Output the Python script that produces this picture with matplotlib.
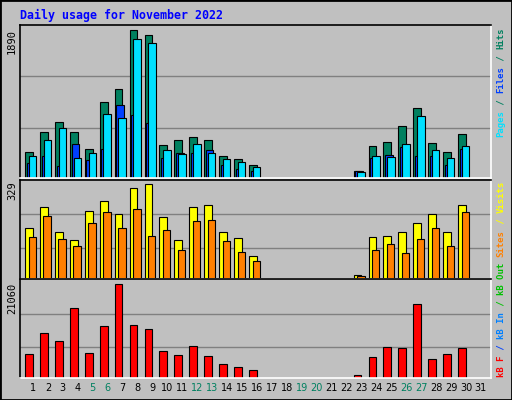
import matplotlib.pyplot as plt
import numpy as np

# ---- data ----
days = list(range(1, 32))
active = [1, 2, 3, 4, 5, 6, 7, 8, 9, 10, 11, 12, 13, 14, 15, 16, 23, 24, 25, 26, 27, 28, 29, 30]
hits = [330, 587, 716, 587, 369, 973, 1140, 1890, 1822, 420, 484, 523, 484, 279, 240, 163,
        86, 407, 459, 664, 896, 446, 330, 561]
files = [279, 484, 639, 253, 317, 819, 767, 1770, 1719, 356, 304, 433, 317, 240, 201, 137,
         73, 279, 266, 433, 793, 356, 253, 407]
pages = [189, 279, 150, 433, 227, 369, 934, 806, 703, 253, 317, 317, 356, 163, 111, 86,
         86, 253, 291, 394, 279, 279, 163, 369]
visits = [179, 251, 165, 137, 236, 272, 226, 318, 329, 215, 137, 251, 258, 165, 144, 80,
          15, 147, 151, 165, 194, 226, 165, 258]
sites = [147, 219, 140, 115, 194, 233, 179, 244, 151, 172, 101, 201, 204, 133, 94, 62,
         12, 101, 122, 90, 140, 176, 115, 233]
kbytes = [5380, 9990, 8380, 15760, 5610, 11610, 21060, 11840, 10920, 6070, 5150, 7230, 4920,
          3080, 2380, 1690, 770, 4690, 7000, 6770, 16690, 4230, 5380, 6770]
weekends = [5, 6, 12, 13, 19, 20, 26, 27]

W, H = 512, 400
BG = '#C0C0C0'
fig = plt.figure(figsize=(W / 100, H / 100), dpi=100, facecolor=BG)

# outer frame
fig.patches.append(plt.Rectangle((0, 0), 1, 1, transform=fig.transFigure, fill=False,
                                 edgecolor='black', linewidth=2))


def make_axes(y0, y1):
    ax = fig.add_axes([20 / W, 1 - y1 / H, (491 - 20) / W, (y1 - y0) / H])
    ax.set_facecolor(BG)
    ax.set_xlim(0.13, 31.67)
    ax.set_xticks([])
    ax.set_yticks([])
    for s in ['top', 'left']:
        ax.spines[s].set_color('black')
    for s in ['bottom', 'right']:
        ax.spines[s].set_color('white')
    for s in ax.spines.values():
        s.set_linewidth(1.2)
    return ax


def grid(ax, top, fracs):
    ax.set_ylim(0, top)
    for f in fracs:
        ax.axhline(top * f, color='#808080', linewidth=1, zorder=0)


x = np.array(active)
kw = dict(edgecolor='black', linewidth=0.8, align='edge', zorder=2)

# top panel: hits / files / pages
ax1 = make_axes(25, 178)
grid(ax1, max(hits) * 455 / 441, [0.33, 0.665])
ax1.bar(x - 0.53, hits, 0.52, color='#00805F', **kw)
ax1.bar(x - 0.42, pages, 0.5, color='#0040FF', **kw)
ax1.bar(x - 0.28, files, 0.5, color='#00E0FF', **kw)
fig.text(12 / W, 1 - 29 / H, str(max(hits)), rotation=90, ha='center', va='top',
         family='DejaVu Sans Mono', fontsize=7.5)

# middle panel: visits / sites
ax2 = make_axes(180, 279)
grid(ax2, max(visits) * 290 / 277, [0.31, 0.655])
ax2.bar(x - 0.53, visits, 0.52, color='#FFFF00', **kw)
ax2.bar(x - 0.3, sites, 0.5, color='#FF8000', **kw)
fig.text(12 / W, 1 - 181 / H, str(max(visits)), rotation=90, ha='center', va='top',
         family='DejaVu Sans Mono', fontsize=7.5)

# bottom panel: kB
ax3 = make_axes(279, 378)
grid(ax3, max(kbytes) * 289 / 274, [0.31, 0.647])
ax3.bar(x - 0.53, kbytes, 0.52, color='#FF0000', **kw)
fig.text(12 / W, 1 - 283 / H, str(max(kbytes)), rotation=90, ha='center', va='top',
         family='DejaVu Sans Mono', fontsize=7.5)

# day labels
for d in days:
    px = 33 + (d - 1) * 14.93
    fig.text(px / W, 1 - 388 / H, str(d), ha='center', va='center', fontsize=7,
             color='#008060' if d in weekends else 'black')

# title
fig.text(20 / W, 1 - 15 / H, 'Daily usage for November 2022', ha='left', va='center',
         family='DejaVu Sans Mono', fontweight='bold', fontsize=8.4, color='#0000FF')


# right-hand legends, read bottom to top
def side_label(parts, bottom):
    off = 0
    for txt, col in parts:
        fig.text(501 / W, 1 - (bottom - off * 5.47) / H, txt, rotation=90, ha='center',
                 va='bottom', family='DejaVu Sans Mono', fontweight='bold', fontsize=6.5,
                 color=col)
        off += len(txt)


side_label([('Pages', '#00E0FF'), (' / ', '#00805F'), ('Files', '#0040FF'),
            (' / ', '#00805F'), ('Hits', '#00805F')], 137)
side_label([('kB F', '#FF0000'), (' / ', '#0040FF'), ('kB In', '#0080FF'),
            (' / ', '#00C000'), ('kB Out', '#00C000'), (' ', 'black'), ('Sites', '#FF8000'),
            (' / ', '#FFFF00'), ('Visits', '#FFFF00')], 377)

fig.savefig('out.png', dpi=100, facecolor=BG)
